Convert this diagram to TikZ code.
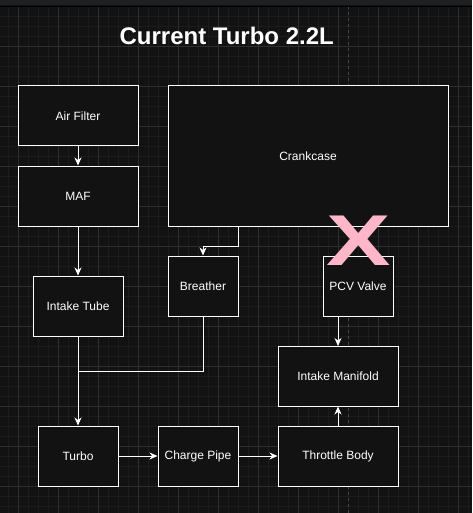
\documentclass[tikz,border=0pt]{standalone}
\usepackage{fontspec}
\setmainfont{Liberation Sans}
\usetikzlibrary{arrows.meta}
\definecolor{bgc}{HTML}{121212}
\definecolor{topbar}{HTML}{1F2022}
\definecolor{minorg}{HTML}{1C1C1C}
\definecolor{majorg}{HTML}{2E2E2E}
\definecolor{pinkx}{HTML}{FFB6C8}
\tikzset{
  box/.style={draw=white, line width=1pt, fill=bgc, text=white, font=\fontsize{12}{14}\selectfont, inner sep=0pt},
  conn/.style={draw=white, line width=1pt},
  arr/.style={conn, -{Stealth[length=8pt,width=7pt,inset=2.5pt]}},
}
\begin{document}
\begin{tikzpicture}[x=1pt,y=-1pt]
\useasboundingbox (0,0) rectangle (472,513);
\fill[bgc] (0,0) rectangle (472,513);
% minor grid
\foreach \x in {8,18,...,468} \draw[minorg, line width=0.6pt] (\x,6) -- (\x,513);
\foreach \y in {16,26,...,506} \draw[minorg, line width=0.6pt] (0,\y) -- (472,\y);
% major grid
\foreach \x in {18,58,...,458} \draw[majorg, line width=0.8pt] (\x,6) -- (\x,513);
\foreach \y in {46,86,...,486} \draw[majorg, line width=0.8pt] (0,\y) -- (472,\y);
% page break line
\draw[gray!55!black, line width=0.8pt, dash pattern=on 3pt off 3pt] (348,6) -- (348,513);
% top bar
\fill[topbar] (0,0) rectangle (472,5.5);
\draw[black, line width=0.8pt] (0,6) -- (472,6);

% title
\node[text=white, font=\bfseries\fontsize{24}{28}\selectfont] (title) at (226.7,36) {Current Turbo 2.2L};

% boxes
\node[box, minimum width=120pt, minimum height=60pt] (air) at (78,116) {Air Filter};
\node[box, minimum width=120pt, minimum height=60pt] (maf) at (78,196) {MAF};
\node[box, minimum width=280pt, minimum height=140pt] (crank) at (308,156) {Crankcase};
\node[box, minimum width=90pt, minimum height=60pt] (tube) at (78,306) {Intake Tube};
\node[box, minimum width=70pt, minimum height=60pt] (breather) at (203,286) {Breather};
\node[box, minimum width=70pt, minimum height=60pt] (pcv) at (358,286) {PCV Valve};
\node[box, minimum width=120pt, minimum height=60pt] (manifold) at (338,376) {Intake Manifold};
\node[box, minimum width=80pt, minimum height=60pt] (turbo) at (78,456) {Turbo};
\node[box, minimum width=80pt, minimum height=60pt] (charge) at (198,456) {Charge Pipe};
\node[box, minimum width=120pt, minimum height=60pt] (throttle) at (338,456) {Throttle Body};

% connectors
\coordinate (cb1) at (238,246);
\coordinate (join) at (78,371);
\draw[arr] (air) -- (maf);
\draw[arr] (maf) -- (tube);
\draw[arr] (crank.south west -| 238,0) -- (cb1) -| (breather.north);
\draw[conn] (breather.south) |- (join);
\draw[arr] (tube) -- (turbo);
\draw[arr] (turbo) -- (charge);
\draw[arr] (charge) -- (throttle);
\draw[arr] (throttle) -- (manifold);
\draw[arr] (pcv.south -| 338,0) -- (338,346);

% pink X
\node[text=pinkx, font=\bfseries\fontsize{72}{72}\selectfont, inner sep=0pt] (cross) at (358.7,241) {\scalebox{1.34}[1]{X}};
\end{tikzpicture}
\end{document}
